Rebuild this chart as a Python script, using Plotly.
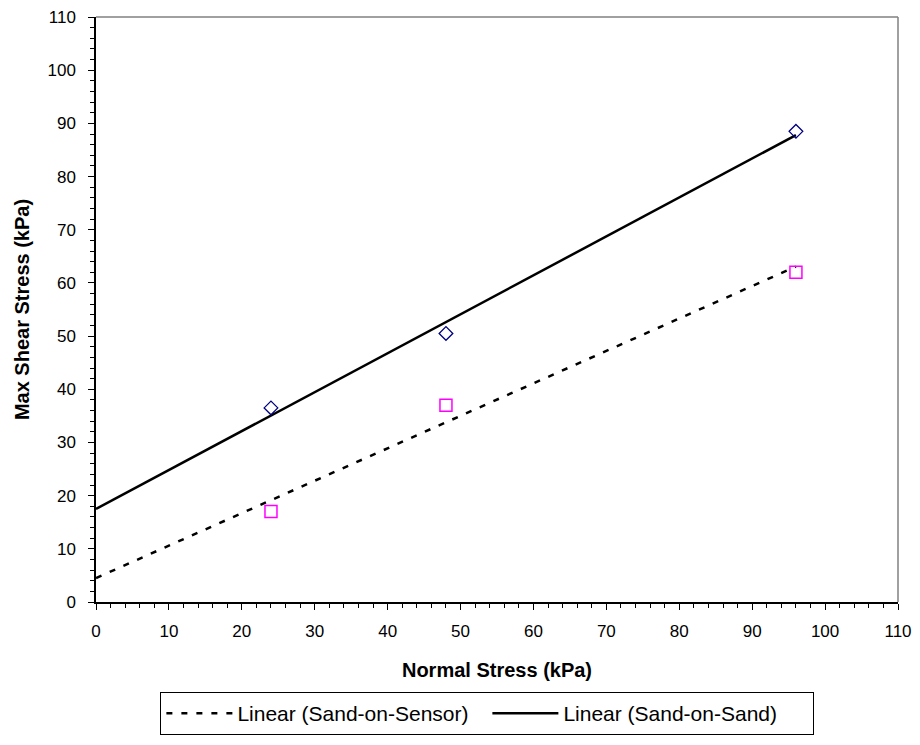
import numpy as np
import plotly.graph_objects as go

# Direct shear test results
normal_stress = [24, 48, 96]                 # kPa
shear_sand_on_sand = [36.5, 50.5, 88.5]      # kPa
shear_sand_on_sensor = [17.0, 37.0, 62.0]    # kPa

x_ticks = list(range(0, 111, 10))
y_ticks = list(range(0, 111, 10))

# Linear trendlines, extended back to zero normal stress
trend_x = np.array([0, max(normal_stress)])
fit_sand = np.polyfit(normal_stress, shear_sand_on_sand, 1)
fit_sensor = np.polyfit(normal_stress, shear_sand_on_sensor, 1)

FONT = "Liberation Sans, Arial"

fig = go.Figure()

fig.add_trace(go.Scatter(
    x=trend_x, y=np.polyval(fit_sensor, trend_x), mode="lines",
    name="Linear (Sand-on-Sensor)",
    line=dict(color="black", width=2.5, dash="6px,9px"),
))
fig.add_trace(go.Scatter(
    x=trend_x, y=np.polyval(fit_sand, trend_x), mode="lines",
    name="Linear (Sand-on-Sand)",
    line=dict(color="black", width=2.5),
))
fig.add_trace(go.Scatter(
    x=normal_stress, y=shear_sand_on_sand, mode="markers", showlegend=False,
    name="Sand-on-Sand",
    marker=dict(symbol="diamond-open", size=10.5, color="#000080",
                line=dict(width=1.3, color="#000080")),
))
fig.add_trace(go.Scatter(
    x=normal_stress, y=shear_sand_on_sensor, mode="markers", showlegend=False,
    name="Sand-on-Sensor",
    marker=dict(symbol="square-open", size=12, color="#FF00FF",
                line=dict(width=1.5, color="#FF00FF")),
))

axis_common = dict(
    range=[0, 110], showgrid=False, zeroline=False, automargin=False,
    showline=True, linecolor="black", linewidth=1.5,
    ticks="outside", ticklen=6, tickwidth=1.2, tickcolor="black",
    tickfont=dict(family=FONT, size=17, color="black"),
    minor=dict(dtick=2, ticks="outside", ticklen=4, tickwidth=1, tickcolor="black"),
)

fig.update_xaxes(
    **axis_common, tickvals=x_ticks, ticklabelstandoff=7,
    title=dict(text="<b>Normal Stress (kPa)</b>", standoff=23,
               font=dict(family=FONT, size=20, color="black")),
)
fig.update_yaxes(
    **axis_common, tickvals=y_ticks, ticklabelstandoff=9,
    title=dict(text="<b>Max Shear Stress (kPa)</b>", standoff=12,
               font=dict(family=FONT, size=20, color="black")),
)

# Grey frame on the top and right edges of the plot area
for x0, y0, x1, y1 in [(0, 1, 1, 1), (1, 0, 1, 1)]:
    fig.add_shape(type="line", xref="paper", yref="paper",
                  x0=x0, y0=y0, x1=x1, y1=y1,
                  line=dict(color="#808080", width=1.5))

fig.update_layout(
    width=920, height=745,
    margin=dict(l=96, r=22, t=17, b=143, autoexpand=False),
    plot_bgcolor="white", paper_bgcolor="white",
    legend=dict(
        orientation="h", x=0.488, xanchor="center", y=-0.154, yanchor="top",
        bordercolor="black", borderwidth=1, itemwidth=66,
        entrywidth=245, entrywidthmode="pixels",
        font=dict(family=FONT, size=21, color="black"),
    ),
)

fig.write_html("out.html")
